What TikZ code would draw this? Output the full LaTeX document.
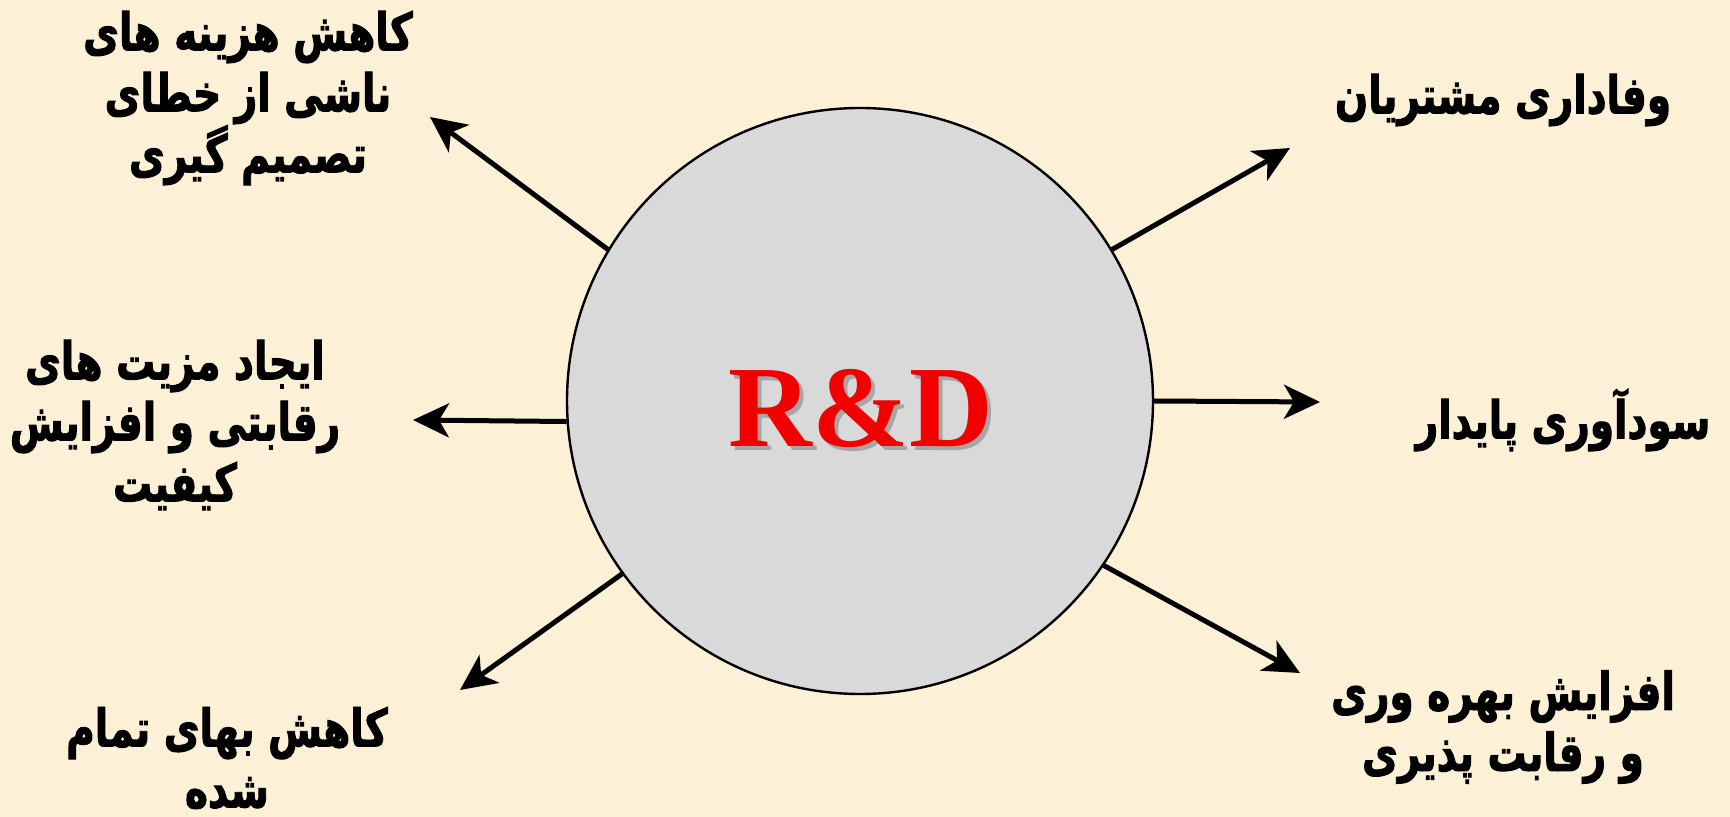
\documentclass[tikz,border=0pt]{standalone}
\usepackage{fontspec}
\usepackage{xcolor}
\usepackage{tikz}
\usetikzlibrary{arrows.meta, positioning}
\setmainfont{Liberation Serif}
\newfontfamily\farsi[Script=Arabic, FakeStretch=0.75, BoldFeatures={FakeBold=1.8}]{DejaVu Sans}
\TeXXeTstate=1
\definecolor{Parchment}{HTML}{FCF1D6}
\definecolor{HubGray}{HTML}{D9D9D9}
\definecolor{TitleRed}{HTML}{F20000}
% one right-to-left line of Persian text
\newcommand{\fa}[1]{\beginR #1\endR}

\begin{document}
\begin{tikzpicture}[
  x=0.5pt, y=-0.5pt,
  hub/.style={circle, draw=black, line width=1.2pt, fill=HubGray, minimum size=293pt, inner sep=0pt},
  title/.style={font=\bfseries\fontsize{58}{58}\selectfont, inner sep=0pt},
  benefit/.style={align=center, inner sep=0pt, font=\farsi\bfseries\fontsize{26}{30.5}\selectfont},
  arrow/.style={-{Stealth[length=18pt, width=17pt, inset=5pt]}, line width=2.5pt}
]
  \fill[Parchment] (0,0) rectangle (1730,817);
  \useasboundingbox (0,0) rectangle (1730,817);

  % centre circle
  \node[hub] (rd) at (860,401) {};
  \node[title, text=black!35] (rdshadow) at (865,412) {R\&D};
  \node[title, text=TitleRed] (rdtitle) at (861,408) {R\&D};

  % arrow tips
  \coordinate (tipUL) at (430,117);
  \coordinate (tipUR) at (1290,148);
  \coordinate (tipL) at (413,420);
  \coordinate (tipR) at (1320,402);
  \coordinate (tipLL) at (460,690);
  \coordinate (tipLR) at (1300,673);

  \draw[arrow] (rd.149) -- (tipUL);
  \draw[arrow] (rd.31) -- (tipUR);
  \draw[arrow] (rd.184) -- (tipL);
  \draw[arrow] (rd.0) -- (tipR);
  \draw[arrow] (rd.216) -- (tipLL);
  \draw[arrow] (rd.326) -- (tipLR);

  % outcomes
  \node[benefit] (costs) at (248,98) {\fa{کاهش هزینه های}\\\fa{ناشی از خطای}\\\fa{تصمیم گیری}};
  \node[benefit] (loyalty) at (1503,100) {\fa{وفاداری مشتریان}};
  \node[benefit] (advantage) at (175,425) {\fa{ایجاد مزیت های}\\\fa{رقابتی و افزایش}\\\fa{کیفیت}};
  \node[benefit] (profit) at (1563,420) {\fa{سودآوری پایدار}};
  \node[benefit] (price) at (227,758) {\fa{کاهش بهای تمام}\\\fa{شده}};
  \node[benefit] (productivity) at (1503,727) {\fa{افزایش بهره وری}\\\fa{و رقابت پذیری}};
\end{tikzpicture}
\end{document}
